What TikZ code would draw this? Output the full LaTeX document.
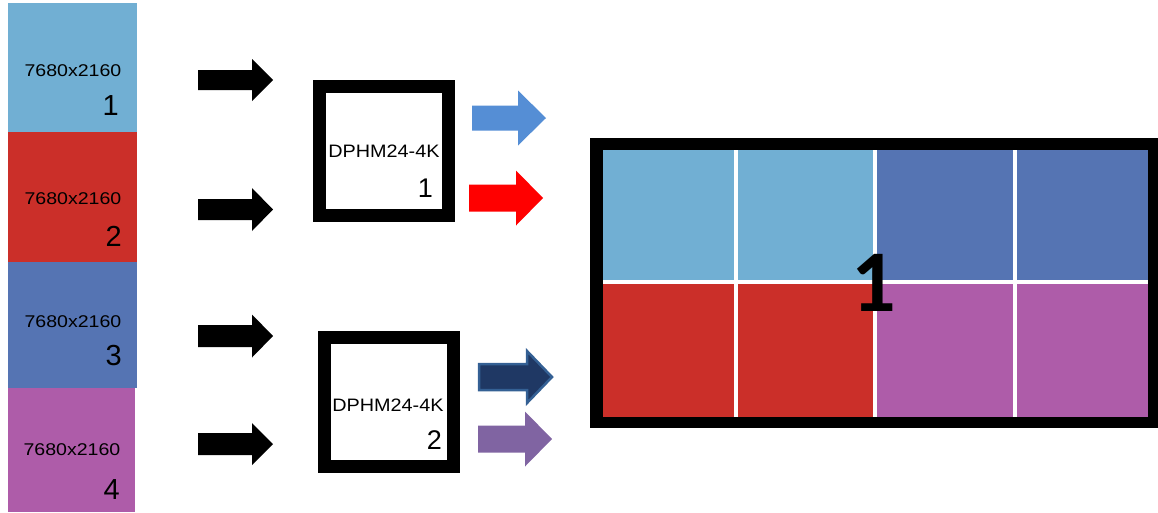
\documentclass[tikz,border=0pt]{standalone}
\usepackage{fontspec}
\setmainfont{Liberation Sans}
\newfontfamily\carlitofont{Carlito}
\definecolor{lblue}{RGB}{113,175,211}
\definecolor{vred}{RGB}{203,47,41}
\definecolor{vblue}{RGB}{85,116,179}
\definecolor{vpurple}{RGB}{174,92,169}
\definecolor{arrblue}{RGB}{85,142,213}
\definecolor{arrred}{RGB}{255,0,0}
\definecolor{arrnavy}{RGB}{31,56,100}
\definecolor{arrnavyline}{RGB}{52,96,148}
\definecolor{arrpurple}{RGB}{128,100,162}
% style, x, y(center), shaft length, total length, shaft half-height, head half-height
\newcommand\blockarrow[7]{\path[#1] (#2,{#3-#6}) -- ({#2+#4},{#3-#6}) -- ({#2+#4},{#3-#7}) -- ({#2+#5},#3) -- ({#2+#4},{#3+#7}) -- ({#2+#4},{#3+#6}) -- (#2,{#3+#6}) -- cycle;}
\begin{document}
\begin{tikzpicture}[x=1pt,y=-1pt,
  src/.style={rectangle, inner sep=0pt, outer sep=0pt, minimum width=129pt},
  srctext/.style={font=\fontsize{17}{17}\selectfont, inner sep=0pt},
  srcnum/.style={font=\fontsize{29}{29}\selectfont, inner sep=0pt, anchor=east},
  hub/.style={draw=black, line width=13pt, fill=white, minimum width=129pt, minimum height=129pt, inner sep=0pt},
  hubtext/.style={font=\fontsize{18}{18}\selectfont, inner sep=0pt},
  hubnum/.style={font=\fontsize{27}{27}\selectfont, inner sep=0pt, anchor=east},
  gridline/.style={white, line width=3.5pt}]
\useasboundingbox (0,0) rectangle (1158,512);
% sources
\node[src, fill=lblue, minimum height=129pt] (s1) at (72.5,67.5) {};
\node[src, fill=vred, minimum height=130pt] (s2) at (72.5,197) {};
\node[src, fill=vblue, minimum height=126pt] (s3) at (72.5,325) {};
\node[src, fill=vpurple, minimum width=127pt, minimum height=124pt] (s4) at (71.5,450) {};
\node[srctext] (t1) at (73,71) {\scalebox{1.15}[1]{7680x2160}};
\node[srctext] (t2) at (73,199) {\scalebox{1.15}[1]{7680x2160}};
\node[srctext] (t3) at (73,322) {\scalebox{1.15}[1]{7680x2160}};
\node[srctext] (t4) at (72,450) {\scalebox{1.15}[1]{7680x2160}};
\node[srcnum] (n1) at (119,106) {1};
\node[srcnum] (n2) at (122,236) {2};
\node[srcnum] (n3) at (122,356) {3};
\node[srcnum] (n4) at (120,490) {4};
% input arrows
\blockarrow{fill=black}{198}{80}{54}{75}{10}{21}
\blockarrow{fill=black}{198}{209.5}{54}{75}{10.5}{21.5}
\blockarrow{fill=black}{198}{336}{54}{75}{11}{21.5}
\blockarrow{fill=black}{198}{444}{54}{75}{11}{21}
% hubs
\node[hub] (h1) at (384,151) {};
\node[hub] (h2) at (389,402) {};
\node[hubtext] (h1t) at (384,151) {\scalebox{1.1}[1]{DPHM24-4K}};
\node[hubtext] (h2t) at (388,405) {\scalebox{1.1}[1]{DPHM24-4K}};
\node[hubnum] (h1n) at (433,188) {1};
\node[hubnum] (h2n) at (442,440) {2};
% output arrows
\blockarrow{fill=arrblue}{472}{118}{46}{74}{12.5}{27.5}
\blockarrow{fill=arrred}{469}{198}{47}{74}{13.5}{27.5}
\blockarrow{fill=arrnavy, draw=arrnavyline, line width=2.5pt, line join=miter}{479}{377}{48}{73}{13}{26}
\blockarrow{fill=arrpurple}{478}{439}{47}{74}{13.5}{27.5}
% display wall
\node[fill=black, minimum width=568pt, minimum height=290pt, inner sep=0pt] (disp) at (874,283) {};
\fill[lblue] (603,150) rectangle (875,282);
\fill[vblue] (875,150) rectangle (1148,282);
\fill[vred] (603,282) rectangle (875,417);
\fill[vpurple] (875,282) rectangle (1148,417);
\draw[gridline] (736,150) -- (736,417);
\draw[gridline] (875,150) -- (875,417);
\draw[gridline] (1015,150) -- (1015,417);
\draw[gridline] (603,282) -- (1148,282);
\node[font=\carlitofont\bfseries\fontsize{88}{88}\selectfont, inner sep=0pt] (big) at (874,283) {1};
\end{tikzpicture}
\end{document}
